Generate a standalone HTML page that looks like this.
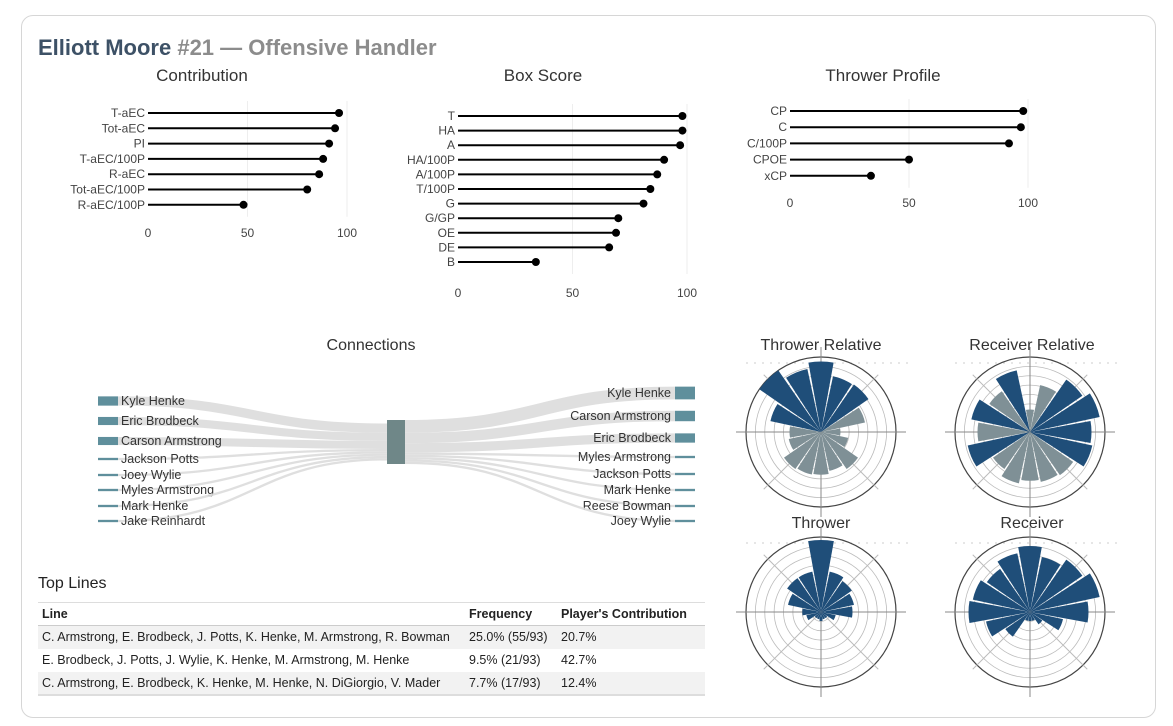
<!DOCTYPE html>
<html><head><meta charset="utf-8"><style>
body{margin:0;background:#fff;font-family:"Liberation Sans",sans-serif;}
#card{position:absolute;left:21px;top:15px;width:1133px;height:701px;border:1px solid #d6d6d6;border-radius:12px;}
svg text{font-family:"Liberation Sans",sans-serif;}
</style></head><body>
<div id="card"></div>
<svg id="s" width="1173" height="726" style="position:absolute;left:0;top:0">
<text x="38" y="55" font-size="22" font-weight="bold"><tspan fill="#3d5166">Elliott Moore</tspan><tspan fill="#8c8c8c"> #21 — Offensive Handler</tspan></text>
<text x="202" y="81" font-size="17" fill="#333" text-anchor="middle">Contribution</text>
<text x="543" y="81" font-size="17" fill="#333" text-anchor="middle">Box Score</text>
<text x="883" y="81" font-size="17" fill="#333" text-anchor="middle">Thrower Profile</text>
<text x="371" y="350" font-size="16" fill="#333" text-anchor="middle">Connections</text>
<text x="821" y="350" font-size="16" fill="#333" text-anchor="middle">Thrower Relative</text>
<text x="1032" y="350" font-size="16" fill="#333" text-anchor="middle">Receiver Relative</text>
<text x="821" y="528" font-size="16" fill="#333" text-anchor="middle">Thrower</text>
<text x="1032" y="528" font-size="16" fill="#333" text-anchor="middle">Receiver</text>
<text x="38" y="588" font-size="16" fill="#222">Top Lines</text>
</svg>
<table id="tbl" style="position:absolute;left:38px;top:602px;width:667px;border-collapse:collapse;table-layout:fixed;font-size:12.5px;color:#222;border-top:1px solid #ddd;border-bottom:2px solid #ddd">
<colgroup><col style="width:427px"><col style="width:92px"><col></colgroup>
<tr style="height:23px;font-weight:bold"><td style="padding-left:4px">Line</td><td style="padding-left:4px">Frequency</td><td style="padding-left:4px;white-space:nowrap">Player's Contribution</td></tr>
<tr style="height:23px;background:#f2f2f2;border-top:1px solid #ccc"><td style="padding-left:4px;white-space:nowrap">C. Armstrong, E. Brodbeck, J. Potts, K. Henke, M. Armstrong, R. Bowman</td><td style="padding-left:4px;white-space:nowrap">25.0% (55/93)</td><td style="padding-left:4px">20.7%</td></tr>
<tr style="height:23px;background:#fff"><td style="padding-left:4px;white-space:nowrap">E. Brodbeck, J. Potts, J. Wylie, K. Henke, M. Armstrong, M. Henke</td><td style="padding-left:4px">9.5% (21/93)</td><td style="padding-left:4px">42.7%</td></tr>
<tr style="height:23px;background:#f2f2f2"><td style="padding-left:4px;white-space:nowrap">C. Armstrong, E. Brodbeck, K. Henke, M. Henke, N. DiGiorgio, V. Mader</td><td style="padding-left:4px">7.7% (17/93)</td><td style="padding-left:4px">12.4%</td></tr>
</table>
<script>
const contribLabels=["T-aEC","Tot-aEC","PI","T-aEC/100P","R-aEC","Tot-aEC/100P","R-aEC/100P"];
const contribValues=[96,94,91,88,86,80,48];
const boxLabels=["T","HA","A","HA/100P","A/100P","T/100P","G","G/GP","OE","DE","B"];
const boxValues=[98,98,97,90,87,84,81,70,69,66,34];
const throwLabels=["CP","C","C/100P","CPOE","xCP"];
const throwValues=[98,97,92,50,34];
const ticks=[0,50,100];
const sankeyLeftNames=["Kyle Henke","Eric Brodbeck","Carson Armstrong","Jackson Potts","Joey Wylie","Myles Armstrong","Mark Henke","Jake Reinhardt"];
const sankeyLeftValues=[8,7,7,2,2,2,2,2];
const sankeyRightNames=["Kyle Henke","Carson Armstrong","Eric Brodbeck","Myles Armstrong","Jackson Potts","Mark Henke","Reese Bowman","Joey Wylie"];
const sankeyRightValues=[11,9,8,2,2,2,2,2];
const throwerRel=[0.94,0.76,0.77,0.6,0.26,0.37,0.6,0.53,0.57,0.58,0.6,0.44,0.42,0.69,1.0,0.86];
const throwerRelPos=[1,1,1,0,0,0,0,0,0,0,0,0,0,1,1,1];
const receiverRel=[0.3,0.64,0.85,0.95,0.82,0.85,0.7,0.68,0.65,0.7,0.6,0.85,0.7,0.8,0.66,0.84];
const receiverRelPos=[0,0,1,1,1,1,0,0,0,0,0,1,0,1,0,1];
const throwerDir=[0.96,0.55,0.5,0.45,0.42,0.2,0.1,0.1,0.12,0.1,0.1,0.2,0.25,0.45,0.55,0.55];
const receiverDir=[0.88,0.75,0.85,0.95,0.78,0.45,0.2,0.12,0.12,0.12,0.4,0.6,0.82,0.78,0.7,0.8];

const S=document.getElementById('s');const NS='http://www.w3.org/2000/svg';
function mk(t,a,p){const e=document.createElementNS(NS,t);for(const k in a)e.setAttribute(k,a[k]);(p||S).appendChild(e);return e;}

function lollipop(name,labels,vals,x0,x1,y0,dy,tickY){
  const g=mk('g',{});
  
  
  const sx=v=>x0+(x1-x0)*v/100;
  ticks.forEach(t=>{
    if(t>0){const gl=mk('line',{x1:sx(t),x2:sx(t),y1:y0-12,y2:y0+dy*(labels.length-1)+12,stroke:'#eee'},g);
    
    }
    const tx=mk('text',{x:sx(t),y:tickY,'font-size':12,fill:'#444','text-anchor':'middle'},g);tx.textContent=t;
    
    
  });
  labels.forEach((l,i)=>{
    const y=y0+dy*i;
    const lb=mk('text',{x:x0-3,y:y+4,'font-size':12,fill:'#444','text-anchor':'end'},g);lb.textContent=l;
    
    
    const ln=mk('line',{x1:x0,x2:sx(vals[i]),y1:y,y2:y,stroke:'#000','stroke-width':2},g);
    
    
    const c=mk('circle',{cx:sx(vals[i]),cy:y,r:4,fill:'#000'},g);
    
    
  });
}
lollipop('contribution-chart',contribLabels,contribValues,148,347,113,15.3,237);
lollipop('box-score-chart',boxLabels,boxValues,458,687,116,14.6,297);
lollipop('thrower-profile-chart',throwLabels,throwValues,790,1028,111,16.2,207);

(function(){
  const g=mk('g',{});
  
  
  const leftY=[401,421,441,459,475,490,506,521],rightY=[393,416,438,457,474,490,506,521];
  const tot=Math.max(sankeyLeftValues.reduce((a,b)=>a+b,0),sankeyRightValues.reduce((a,b)=>a+b,0));
  const k=44/tot,cTop=420;
  function side(names,vals,ys,left){
    let acc=cTop+(44-vals.reduce((a,b)=>a+b,0)*k)/2;
    names.forEach((n,i)=>{
      const h=Math.max(vals[i]*k,2);const w=vals[i]*k;const yc=acc+w/2;acc+=w;
      const nx=left?98:675,ex=left?118:675,cx=left?387:405;
      const p=mk('path',{d:`M${ex},${ys[i]} C${(ex+cx)/2},${ys[i]} ${(ex+cx)/2},${yc} ${cx},${yc}`,fill:'none',stroke:'#dcdcdc','stroke-width':w,'stroke-opacity':0.9},g);
      
      
      const r=mk('rect',{x:nx,y:ys[i]-h/2,width:20,height:h,fill:'#5f8f9c'},g);
      
      
      const t=mk('text',{x:left?121:671,y:ys[i]+4,'font-size':12.5,fill:'#333','text-anchor':left?'start':'end'},g);t.textContent=n;
      
      
    });
  }
  side(sankeyLeftNames,sankeyLeftValues,leftY,true);
  side(sankeyRightNames,sankeyRightValues,rightY,false);
  const c=mk('rect',{x:387,y:420,width:18,height:44,fill:'#6f8788'},g);
  
  
})();

function polar(name,cx,cy,vals,pos){
  const R=75;const g=mk('g',{});
  
  
  const dl=mk('line',{x1:cx-75,x2:cx+90,y1:cy-69,y2:cy-69,stroke:'#ccc','stroke-dasharray':'2,6'},g);
  
  
  for(let i=1;i<=8;i++){const c=mk('circle',{cx,cy,r:R*i/8,fill:'none',stroke:i==8?'#444':'#bbb','stroke-width':i==8?1.2:0.8},g);
    
    }
  for(let a=0;a<360;a+=45){const r=a*Math.PI/180;const e=a%90==0?R+10:R+6;
    const l=mk('line',{x1:cx,y1:cy,x2:cx+e*Math.sin(r),y2:cy-e*Math.cos(r),stroke:a%90==0?'#888':'#bbb','stroke-width':1},g);
    
    }
  vals.forEach((v,i)=>{
    const a0=(i*22.5-10.3)*Math.PI/180,a1=(i*22.5+10.3)*Math.PI/180,r=v*R;
    const p=mk('path',{d:`M${cx},${cy} L${cx+r*Math.sin(a0)},${cy-r*Math.cos(a0)} A${r},${r} 0 0 1 ${cx+r*Math.sin(a1)},${cy-r*Math.cos(a1)} Z`,fill:pos[i]?'#1f4e79':'#7f9096'},g);
    
    
  });
}
polar('thrower-relative-polar',821,432,throwerRel,throwerRelPos);
polar('receiver-relative-polar',1030,432,receiverRel,receiverRelPos);
polar('thrower-polar',821,612,throwerDir,throwerDir.map(()=>1));
polar('receiver-polar',1030,612,receiverDir,receiverDir.map(()=>1));
</script>
</body></html>
